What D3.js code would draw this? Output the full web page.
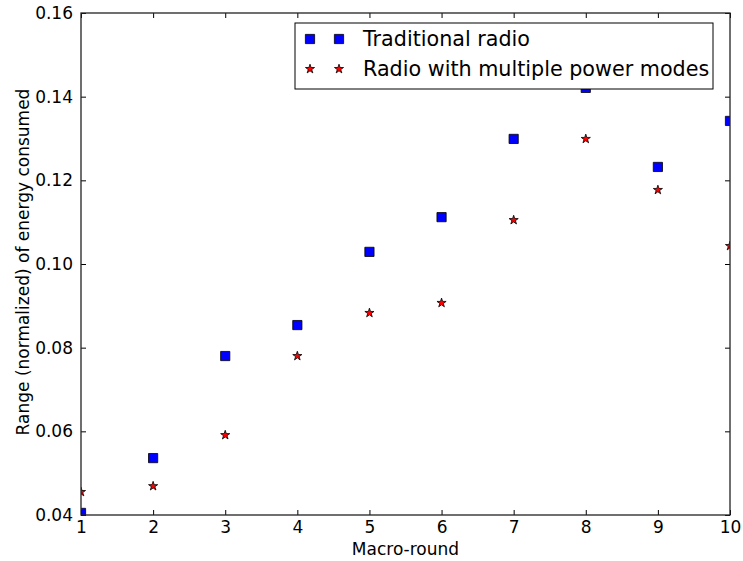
<!DOCTYPE html>
<html><head><meta charset="utf-8">
<script src="https://cdn.jsdelivr.net/npm/d3@7"></script>
<style>body{margin:0;background:#fff;} text{font-family:"DejaVu Sans",sans-serif;}</style>
</head><body>
<svg id="c" width="743" height="561"></svg>
<script>
const rounds = [1,2,3,4,5,6,7,8,9,10];
const traditional = [0.0405,0.0536,0.0780,0.0854,0.1029,0.1112,0.1299,0.1421,0.1232,0.1342];
const multiMode = [0.0455,0.0469,0.0591,0.0780,0.0883,0.0907,0.1105,0.1299,0.1177,0.1043];
const yTicks = [0.04,0.06,0.08,0.10,0.12,0.14,0.16];
const xTicks = [1,2,3,4,5,6,7,8,9,10];
const seriesNames = ["Traditional radio","Radio with multiple power modes"];

const svg = d3.select("#c");
const L=81, R=730, T=13, B=515;
const x = d3.scaleLinear().domain([1,10]).range([L,R]);
const y = d3.scaleLinear().domain([0.04,0.16]).range([B,T]);

svg.append("defs").append("clipPath").attr("id","clip")
  .append("rect").attr("x",L).attr("y",T).attr("width",R-L).attr("height",B-T);

const star = d3.symbol().type(d3.symbolStar).size(26);
const sq = d3.symbol().type(d3.symbolSquare).size(85);

const g = svg.append("g").attr("clip-path","url(#clip)");
g.selectAll(".sq").data(rounds).join("path")
  .attr("d",sq).attr("transform",(d,i)=>`translate(${x(d)},${y(traditional[i])})`)
  .attr("fill","#0000ff").attr("stroke","#000").attr("stroke-width",0.8);
g.selectAll(".st").data(rounds).join("path")
  .attr("d",star).attr("transform",(d,i)=>`translate(${x(d)},${y(multiMode[i])})`)
  .attr("fill","#ff0000").attr("stroke","#000").attr("stroke-width",0.8);

// axes
const fmt = d3.format(".2f");
const axL = svg.append("g").attr("transform",`translate(${L},0)`)
  .call(d3.axisLeft(y).tickValues(yTicks).tickFormat(fmt).tickSizeInner(-5).tickSizeOuter(0).tickPadding(8));
const axR = svg.append("g").attr("transform",`translate(${R},0)`)
  .call(d3.axisRight(y).tickValues(yTicks).tickFormat("").tickSizeInner(-5).tickSizeOuter(0));
const axB = svg.append("g").attr("transform",`translate(0,${B})`)
  .call(d3.axisBottom(x).tickValues(xTicks).tickFormat(d3.format("d")).tickSizeInner(-5).tickSizeOuter(0).tickPadding(6));
const axT = svg.append("g").attr("transform",`translate(0,${T})`)
  .call(d3.axisTop(x).tickValues(xTicks).tickFormat("").tickSizeInner(-5).tickSizeOuter(0));
[axL,axR,axB,axT].forEach(a=>{
  a.select(".domain").remove();
  a.selectAll("line").attr("stroke","#000").attr("stroke-width",1);
  a.selectAll("text").attr("font-size",17).attr("fill","#000").attr("font-family","DejaVu Sans");
});
svg.append("rect").attr("x",L).attr("y",T).attr("width",R-L).attr("height",B-T)
  .attr("fill","none").attr("stroke","#222").attr("stroke-width",1.3);

svg.append("text").attr("x",(L+R)/2).attr("y",555).attr("text-anchor","middle")
  .attr("font-size",17).text("Macro-round");
svg.append("text").attr("transform",`translate(29,${(T+B)/2 - 2}) rotate(-90)`).attr("text-anchor","middle")
  .attr("font-size",17).text("Range (normalized) of energy consumed");

// legend
const lg = svg.append("g");
lg.append("rect").attr("x",295).attr("y",23).attr("width",418).attr("height",66)
  .attr("fill","#fff").attr("stroke","#000").attr("stroke-width",1);
const rows=[39,69];
[0,1].forEach(i=>{
  [310,339].forEach(mx=>{
    lg.append("path").attr("d", i===0?sq:star).attr("transform",`translate(${mx},${rows[i]})`)
      .attr("fill", i===0?"#0000ff":"#ff0000").attr("stroke","#000").attr("stroke-width",0.8);
  });
  lg.append("text").attr("x",363).attr("y",rows[i]).attr("dy","0.35em").attr("font-size",20.7).text(seriesNames[i]);
});
</script>
</body></html>
